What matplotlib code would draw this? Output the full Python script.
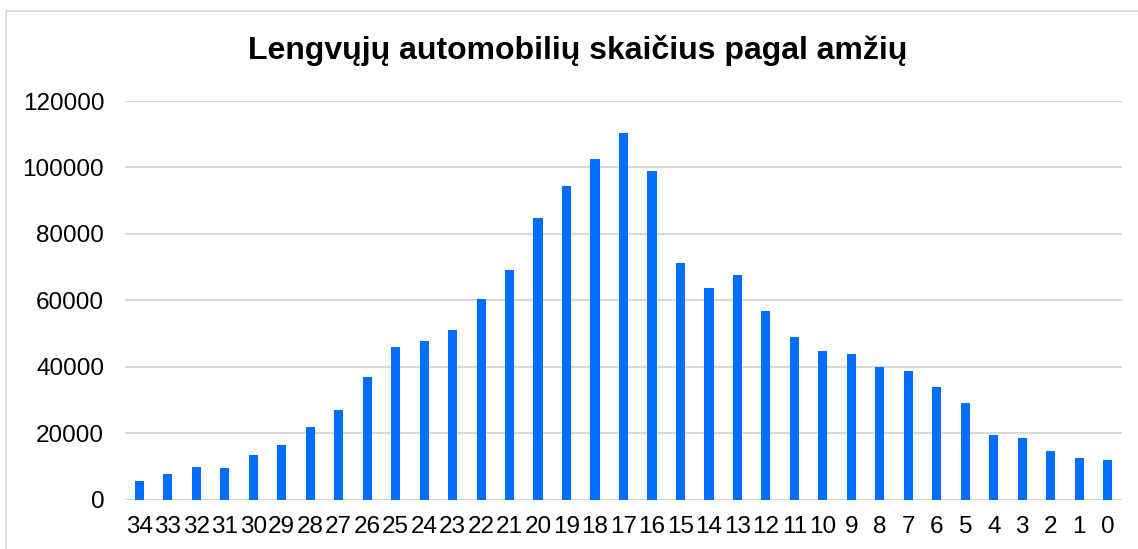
import matplotlib
matplotlib.use("Agg")
import matplotlib.pyplot as plt
from matplotlib.patches import Rectangle

ages = [str(a) for a in range(34, -1, -1)]
counts = [5600, 7700, 9800, 9400, 13500, 16350, 21800, 26900, 36850, 45800,
          47600, 51100, 60250, 69100, 84900, 94350, 102400, 110450, 98900, 71350,
          63700, 67500, 56850, 49000, 44800, 43800, 40050, 38650, 33850, 29100,
          19450, 18550, 14650, 12400, 11900]
yticks = [0, 20000, 40000, 60000, 80000, 100000, 120000]
title = "Lengvųjų automobilių skaičius pagal amžių"

plt.rcParams['font.family'] = ['Liberation Sans', 'DejaVu Sans']

W, H = 1138, 549
fig = plt.figure(figsize=(W / 100, H / 100), dpi=100)
fig.patch.set_facecolor('white')

# chart-area border (cropped at right/bottom)
fig.patches.append(Rectangle((6 / W, -0.1), 1.2, (H - 11) / H + 0.1,
                             transform=fig.transFigure, fill=False,
                             edgecolor='#d9d9d9', linewidth=1.2))

ax = fig.add_axes([125 / W, 49.5 / H, 997 / W, 398.5 / H])
x = list(range(len(ages)))
ax.bar(x, counts, width=0.32, color='#006EFF', zorder=3)
ax.set_xlim(-0.5, len(ages) - 0.5)
ax.set_ylim(0, 120000)
ax.set_yticks(yticks)
ax.set_yticklabels([str(v) for v in yticks])
ax.set_xticks(x)
ax.set_xticklabels(ages)
ax.grid(axis='y', color='#d9d9d9', linewidth=1.5, zorder=0)
ax.set_axisbelow(True)
for s in ax.spines.values():
    s.set_visible(False)
ax.tick_params(axis='both', length=0, labelsize=17.5, colors='black')
ax.tick_params(axis='y', pad=15)
ax.tick_params(axis='x', pad=12)

fig.text(578 / W, 1 - 51 / H, title, ha='center', va='center',
         fontsize=23, fontweight='bold')

fig.savefig('out.png', dpi=100)
